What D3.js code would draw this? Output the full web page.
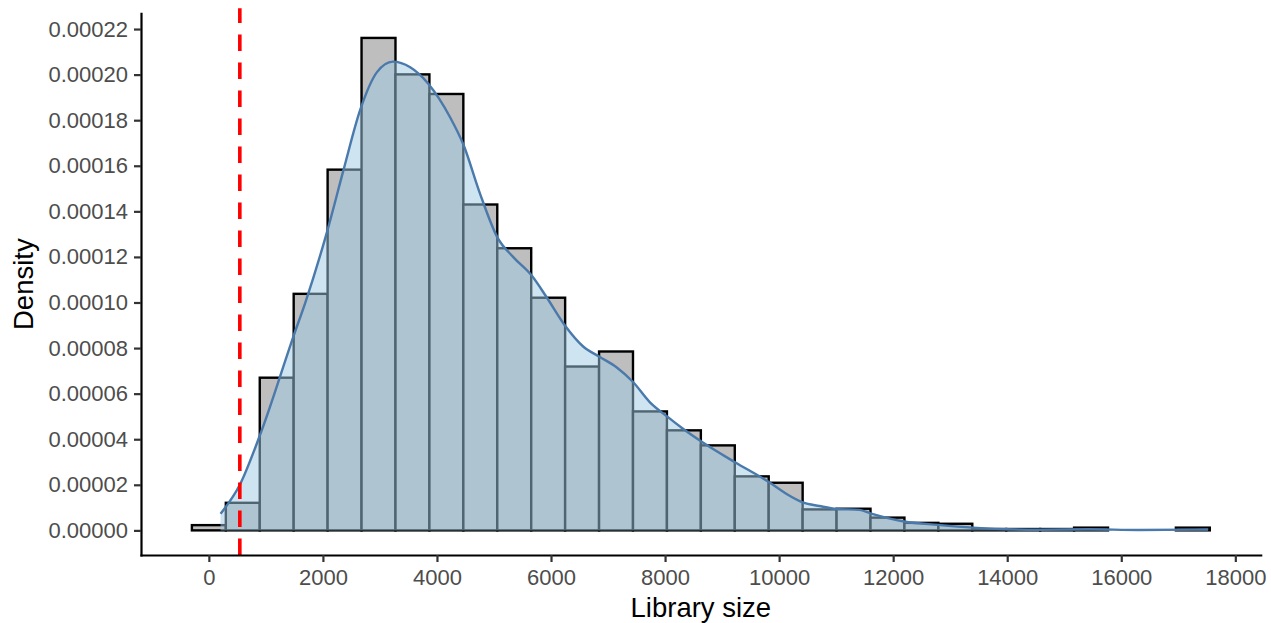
<!DOCTYPE html>
<html>
<head>
<meta charset="utf-8">
<script src="https://cdn.jsdelivr.net/npm/d3@7"></script>
<style>
  body { margin: 0; background: #fff; }
  svg { display: block; }
  text { font-family: "Liberation Sans", Arial, Helvetica, sans-serif; }
</style>
</head>
<body>
<svg id="chart" width="1271" height="623"></svg>
<script>
// Histogram of library sizes on the density scale: 30 equal-width bins
const binWidth = 595;
const binStart = -297.5;
const binDensity = [
  2.3e-6, 1.21e-5, 6.70e-5, 1.038e-4, 1.583e-4, 2.161e-4, 2.001e-4, 1.915e-4,
  1.430e-4, 1.238e-4, 1.021e-4, 7.19e-5, 7.85e-5, 5.22e-5, 4.39e-5, 3.73e-5,
  2.37e-5, 2.09e-5, 9.2e-6, 9.5e-6, 5.6e-6, 3.3e-6, 2.9e-6, 6e-7,
  6e-7, 6e-7, 1.2e-6, 0, 0, 1.2e-6
];

// Kernel density estimate of library size
const kdeSize = [
  205, 543, 905, 1488, 1693, 2072, 2363, 2655, 2948, 3228, 3531, 3851, 4230,
  4463, 4756, 5059, 5339, 5661, 5923, 6244, 6564, 6856, 7148, 7439, 7731,
  8034, 8314, 8636, 9219, 9820, 10124, 10415, 10707, 11010, 11407, 11600,
  12190, 12790, 13391, 14558, 15430, 16300, 17522
];
const kdeDensity = [
  7.3e-6, 2.0e-5, 4.24e-5, 8.55e-5, 1.001e-4, 1.31e-4, 1.583e-4, 1.846e-4,
  2.011e-4, 2.057e-4, 2.032e-4, 1.959e-4, 1.813e-4, 1.693e-4, 1.477e-4,
  1.286e-4, 1.199e-4, 1.118e-4, 1.023e-4, 8.99e-5, 8.07e-5, 7.61e-5, 7.16e-5,
  6.51e-5, 5.63e-5, 5.0e-5, 4.46e-5, 3.90e-5, 3.0e-5, 2.12e-5, 1.61e-5,
  1.23e-5, 1.07e-5, 9.4e-6, 9.0e-6, 7.5e-6, 3.9e-6, 2.4e-6, 1.2e-6,
  3e-7, 5e-7, 1.5e-7, 4e-7
];

// Library-size cutoff
const cutoff = 543;

const xTicks = [0, 2000, 4000, 6000, 8000, 10000, 12000, 14000, 16000, 18000];
const yTicks = [0, 0.00002, 0.00004, 0.00006, 0.00008, 0.00010, 0.00012,
                0.00014, 0.00016, 0.00018, 0.00020, 0.00022];

const xTitle = "Library size";
const yTitle = "Density";

const width = 1271, height = 623;
const margin = { top: 13.3, right: 10.3, bottom: 68, left: 141 };
const svg = d3.select("#chart");

const bins = binDensity.map((d, i) => ({
  x0: binStart + i * binWidth,
  x1: binStart + (i + 1) * binWidth,
  y: d
}));

// Scales with 5% padding on each side of the data
const xMin = bins[0].x0, xMax = bins[bins.length - 1].x1;
const xPad = (xMax - xMin) * 0.05;
const x = d3.scaleLinear()
  .domain([xMin - xPad, xMax + xPad])
  .range([margin.left, width - margin.right]);

const yMax = d3.max(binDensity);
const yPad = yMax * 0.05;
const y = d3.scaleLinear()
  .domain([0 - yPad, yMax + yPad])
  .range([height - margin.bottom, margin.top]);

// Histogram bars (empty bins are not drawn)
svg.append("g")
  .selectAll("rect")
  .data(bins.filter(b => b.y > 0))
  .join("rect")
  .attr("x", d => x(d.x0))
  .attr("width", d => x(d.x1) - x(d.x0))
  .attr("y", d => y(d.y))
  .attr("height", d => y(0) - y(d.y))
  .attr("fill", "#BEBEBE")
  .attr("stroke", "#000")
  .attr("stroke-width", 2.4);

const kde = kdeSize.map((s, i) => ({ s, d: kdeDensity[i] }));

// Density area (semi-transparent) and its outline
svg.append("path")
  .datum(kde)
  .attr("d", d3.area()
    .x(p => x(p.s))
    .y0(y(0))
    .y1(p => y(p.d))
    .curve(d3.curveMonotoneX))
  .attr("fill", "#9ECAE1")
  .attr("fill-opacity", 0.5);

svg.append("path")
  .datum(kde)
  .attr("d", d3.line()
    .x(p => x(p.s))
    .y(p => y(p.d))
    .curve(d3.curveMonotoneX))
  .attr("fill", "none")
  .attr("stroke", "#4A79AB")
  .attr("stroke-width", 2.4);

// Cutoff line
svg.append("line")
  .attr("x1", x(cutoff)).attr("x2", x(cutoff))
  .attr("y1", y.range()[0]).attr("y2", y.range()[1] - 5)
  .attr("stroke", "#FF0000")
  .attr("stroke-width", 3.6)
  .attr("stroke-dasharray", "16.5,11.5");

// Axes
const xAxis = svg.append("g")
  .attr("transform", `translate(0,${y.range()[0]})`)
  .call(d3.axisBottom(x).tickValues(xTicks).tickFormat(d3.format("d"))
    .tickSize(7).tickPadding(7).tickSizeOuter(0));

const yAxis = svg.append("g")
  .attr("transform", `translate(${margin.left},0)`)
  .call(d3.axisLeft(y).tickValues(yTicks).tickFormat(d3.format(".5f"))
    .tickSize(7).tickPadding(6).tickSizeOuter(0));

[xAxis, yAxis].forEach(g => {
  g.select(".domain").attr("stroke", "#000").attr("stroke-width", 2.2)
    .attr("stroke-linecap", "square");
  g.selectAll(".tick line").attr("stroke", "#333").attr("stroke-width", 2.2);
  g.selectAll(".tick text").attr("fill", "#4D4D4D")
    .style("font-size", "22px");
});

// Axis titles
svg.append("text")
  .attr("x", (x.range()[0] + x.range()[1]) / 2)
  .attr("y", 616.5)
  .attr("text-anchor", "middle")
  .style("font-size", "27.5px")
  .attr("fill", "#000")
  .text(xTitle);

svg.append("text")
  .attr("transform", `translate(33,${(y.range()[0] + y.range()[1]) / 2}) rotate(-90)`)
  .attr("text-anchor", "middle")
  .style("font-size", "27.5px")
  .attr("fill", "#000")
  .text(yTitle);
</script>
</body>
</html>
